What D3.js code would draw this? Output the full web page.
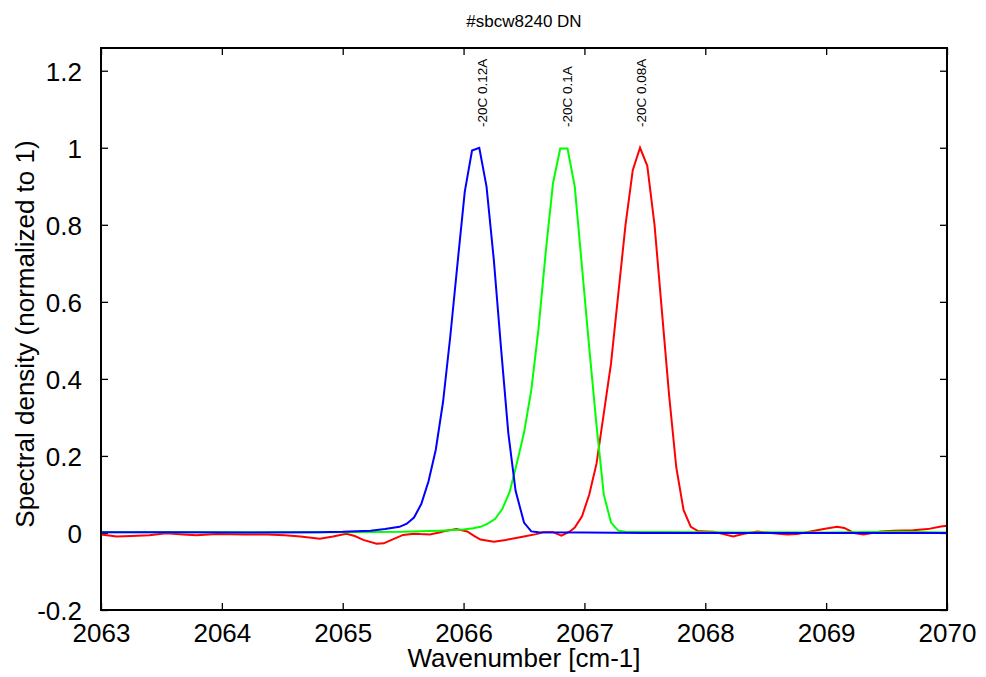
<!DOCTYPE html>
<html>
<head>
<meta charset="utf-8">
<script src="https://cdn.jsdelivr.net/npm/d3@7"></script>
<style>
  html, body { margin: 0; padding: 0; background: #fff; }
  text { font-family: "Liberation Sans", Arial, Helvetica, sans-serif; fill: #000; }
</style>
</head>
<body>
<div id="chart"></div>
<script>
// Spectral density chart, three normalized peaks
const title = '#sbcw8240 DN';
const xLabel = 'Wavenumber [cm-1]';
const yLabel = 'Spectral density (normalized to 1)';

const xTicks = [2063, 2064, 2065, 2066, 2067, 2068, 2069, 2070];
const yTicks = [-0.2, 0, 0.2, 0.4, 0.6, 0.8, 1, 1.2];

// [wavenumber, density]
const redSeries = [
    [2063.00, -0.004], [2063.13, -0.009], [2063.25, -0.008], [2063.40, -0.006], [2063.54, -0.001],
    [2063.68, -0.004], [2063.79, -0.006], [2063.96, -0.003], [2064.18, -0.004], [2064.37, -0.004],
    [2064.52, -0.006], [2064.65, -0.009], [2064.81, -0.015], [2064.92, -0.009], [2065.03, -0.002],
    [2065.10, -0.008], [2065.17, -0.018], [2065.28, -0.028], [2065.34, -0.027], [2065.39, -0.020],
    [2065.50, -0.005], [2065.59, -0.002], [2065.64, -0.003], [2065.72, -0.004], [2065.80, 0.001],
    [2065.86, 0.006], [2065.94, 0.010], [2066.03, 0.004], [2066.09, -0.008], [2066.14, -0.017],
    [2066.25, -0.023], [2066.35, -0.018], [2066.50, -0.009], [2066.60, -0.003], [2066.66, 0.002],
    [2066.74, 0.002], [2066.81, -0.007], [2066.88, 0.004], [2066.92, 0.014], [2066.98, 0.043],
    [2067.04, 0.10], [2067.10, 0.18], [2067.16, 0.31], [2067.22, 0.44], [2067.28, 0.62],
    [2067.34, 0.80], [2067.40, 0.942], [2067.46, 1.0], [2067.52, 0.953], [2067.58, 0.80],
    [2067.64, 0.58], [2067.70, 0.36], [2067.76, 0.17], [2067.82, 0.06], [2067.88, 0.016],
    [2067.94, 0.005], [2068.01, 0.004], [2068.07, 0.003], [2068.15, -0.003], [2068.23, -0.009],
    [2068.32, -0.002], [2068.43, 0.004], [2068.54, 0.0], [2068.68, -0.004], [2068.76, -0.003],
    [2068.87, 0.004], [2068.98, 0.010], [2069.09, 0.016], [2069.15, 0.013], [2069.23, 0.0],
    [2069.31, -0.004], [2069.45, 0.004], [2069.56, 0.006], [2069.72, 0.007], [2069.84, 0.010],
    [2069.95, 0.017], [2070.00, 0.019]
];

const greenSeries = [
    [2063.00, 0.002], [2064.00, 0.002], [2065.00, 0.002], [2065.50, 0.003], [2065.80, 0.006],
    [2066.00, 0.009], [2066.08, 0.012], [2066.14, 0.016], [2066.20, 0.024], [2066.26, 0.036],
    [2066.32, 0.062], [2066.38, 0.105], [2066.44, 0.18], [2066.50, 0.26], [2066.56, 0.37],
    [2066.62, 0.53], [2066.68, 0.73], [2066.74, 0.908], [2066.80, 0.998], [2066.86, 0.998],
    [2066.92, 0.899], [2066.98, 0.69], [2067.04, 0.48], [2067.10, 0.28], [2067.16, 0.10],
    [2067.22, 0.027], [2067.28, 0.006], [2067.34, 0.003], [2068.00, 0.002], [2069.00, 0.001],
    [2069.60, 0.003], [2070.00, 0.001]
];

const blueSeries = [
    [2063.00, 0.002], [2063.60, 0.002], [2064.20, 0.001], [2064.80, 0.002], [2065.00, 0.003],
    [2065.23, 0.006], [2065.35, 0.010], [2065.47, 0.016], [2065.53, 0.024], [2065.59, 0.040],
    [2065.65, 0.075], [2065.71, 0.134], [2065.77, 0.216], [2065.83, 0.34], [2065.89, 0.51],
    [2065.95, 0.70], [2066.01, 0.886], [2066.07, 0.993], [2066.13, 1.0], [2066.19, 0.899],
    [2066.25, 0.71], [2066.31, 0.48], [2066.37, 0.26], [2066.43, 0.11], [2066.50, 0.027],
    [2066.56, 0.004], [2066.62, 0.002], [2067.00, 0.001], [2067.50, 0.0], [2068.00, 0.0],
    [2069.00, 0.0], [2070.00, 0.0]
];

const peakLabels = ['-20C 0.12A', '-20C 0.1A', '-20C 0.08A'];
const peakLabelX = [2066.15, 2066.86, 2067.47];
const peakLabelY = 1.054;

const series = [
    { values: redSeries, color: '#ff0000' },
    { values: greenSeries, color: '#00ff00' },
    { values: blueSeries, color: '#0000ff' }
];

const width = 986;
const height = 677;
const margin = { top: 48, right: 39, bottom: 67, left: 101 };
const innerWidth = width - margin.left - margin.right;
const innerHeight = height - margin.top - margin.bottom;

const svg = d3.select('#chart').append('svg')
    .attr('width', width)
    .attr('height', height);

const g = svg.append('g')
    .attr('transform', `translate(${margin.left},${margin.top})`);

const x = d3.scaleLinear().domain([2063, 2070]).range([0, innerWidth]);
const y = d3.scaleLinear().domain([-0.2, 1.259]).range([innerHeight, 0]);

const fmt = d => String(Math.round(d * 10) / 10);

// Axes with inward ticks on all four sides
const bottomAxis = g.append('g')
    .attr('transform', `translate(0,${innerHeight})`)
    .call(d3.axisBottom(x).tickValues(xTicks).tickSizeInner(-7).tickSizeOuter(0).tickPadding(14).tickFormat(fmt));
const topAxis = g.append('g')
    .call(d3.axisTop(x).tickValues(xTicks).tickSizeInner(-7).tickSizeOuter(0));
const leftAxis = g.append('g')
    .call(d3.axisLeft(y).tickValues(yTicks).tickSizeInner(-7).tickSizeOuter(0).tickPadding(19).tickFormat(fmt));
const rightAxis = g.append('g')
    .attr('transform', `translate(${innerWidth},0)`)
    .call(d3.axisRight(y).tickValues(yTicks).tickSizeInner(-7).tickSizeOuter(0));

// mirrored axes carry ticks only
topAxis.selectAll('.tick text').remove();
rightAxis.selectAll('.tick text').remove();

[bottomAxis, topAxis, leftAxis, rightAxis].forEach(a => {
    a.select('.domain').remove();
    a.selectAll('.tick line').attr('stroke', '#000').attr('stroke-width', 1.3);
    a.selectAll('.tick text')
        .style('font-size', '26px')
        .style('font-family', '"Liberation Sans", Arial, Helvetica, sans-serif')
        .attr('fill', '#000');
});
bottomAxis.selectAll('.tick text').attr('dy', '0.71em');
leftAxis.selectAll('.tick text').attr('dy', '0.36em');

// Lines
const line = d3.line()
    .x(d => x(d[0]))
    .y(d => y(d[1]));

g.selectAll('.series')
    .data(series)
    .enter()
    .append('path')
    .attr('class', 'series')
    .attr('fill', 'none')
    .attr('stroke', d => d.color)
    .attr('stroke-width', 2)
    .attr('stroke-linejoin', 'miter')
    .attr('d', d => line(d.values));

// Frame
g.append('rect')
    .attr('width', innerWidth)
    .attr('height', innerHeight)
    .attr('fill', 'none')
    .attr('stroke', '#000')
    .attr('stroke-width', 2);

// Peak labels, rotated
g.selectAll('.peak-label')
    .data(peakLabels)
    .enter()
    .append('text')
    .attr('class', 'peak-label')
    .attr('transform', (d, i) => `translate(${x(peakLabelX[i])},${y(peakLabelY)}) rotate(-90)`)
    .attr('dy', '0.36em')
    .attr('text-anchor', 'start')
    .style('font-size', '13.5px')
    .text(d => d);

// Title and axis labels
svg.append('text')
    .attr('x', margin.left + innerWidth / 2)
    .attr('y', 27)
    .attr('text-anchor', 'middle')
    .style('font-size', '17px')
    .text(title);

svg.append('text')
    .attr('x', margin.left + innerWidth / 2)
    .attr('y', 667)
    .attr('text-anchor', 'middle')
    .style('font-size', '26px')
    .text(xLabel);

svg.append('text')
    .attr('transform', `translate(34,${margin.top + innerHeight / 2 + 5}) rotate(-90)`)
    .attr('text-anchor', 'middle')
    .style('font-size', '26px')
    .text(yLabel);
</script>
</body>
</html>
